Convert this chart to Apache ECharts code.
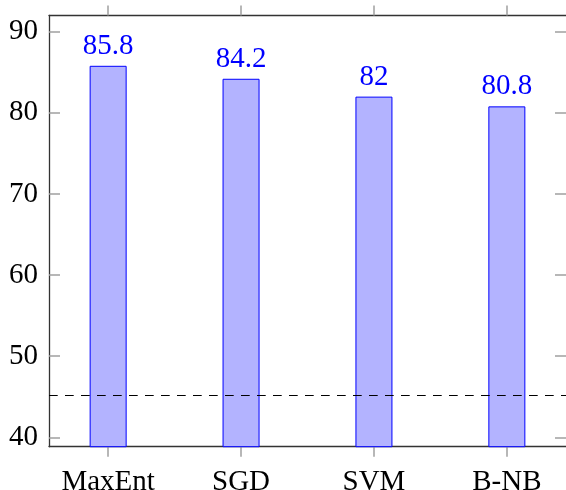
<!DOCTYPE html>
<html>
<head>
<meta charset="utf-8">
<script src="https://cdn.jsdelivr.net/npm/echarts@6/dist/echarts.min.js"></script>
<style>
html,body{margin:0;padding:0;background:#fff;}
#c{width:566px;height:490px;}
</style>
</head>
<body>
<div id="c"></div>
<script>
var categories = ["MaxEnt", "SGD", "SVM", "B-NB"];
var accuracy = [85.8, 84.2, 82, 80.8];
var baseline = 45.2;
var yTicks = [40, 50, 60, 70, 80, 90];

var positions = categories.map(function (c, i) { return i + 1; });
var barData = categories.map(function (c, i) { return [positions[i], accuracy[i]]; });

var FONT = "Liberation Serif";
var chart = echarts.init(document.getElementById('c'), null, {renderer: 'canvas'});

var xMin = 0.555, xMax = 4.445, yMin = 38.85, yMax = 92;
var lineStyle = {color: '#333333', width: 1.3};
var tickStyle = {color: '#a0a0a0', width: 1.5};

chart.setOption({
  animation: false,
  grid: {left: 49, right: 0, top: 15.5, bottom: 43.3, containLabel: false, outerBoundsMode: 'none'},
  xAxis: [
    {
      type: 'value', min: xMin, max: xMax, position: 'bottom',
      splitLine: {show: false},
      axisLine: {show: true, lineStyle: lineStyle},
      axisTick: {show: true, inside: false, length: 10, customValues: positions, lineStyle: tickStyle},
      axisLabel: {
        show: true, customValues: positions, margin: 21,
        fontFamily: FONT, fontSize: 29, color: '#000',
        formatter: function (v) { return categories[Math.round(v) - 1] || ''; }
      }
    },
    {
      type: 'value', min: xMin, max: xMax, position: 'top',
      splitLine: {show: false},
      axisLine: {show: true, lineStyle: lineStyle},
      axisTick: {show: true, inside: false, length: 10, customValues: positions, lineStyle: tickStyle},
      axisLabel: {show: false}
    }
  ],
  yAxis: [
    {
      type: 'value', min: yMin, max: yMax, position: 'left',
      splitLine: {show: false},
      axisLine: {show: true, lineStyle: lineStyle},
      axisTick: {show: true, inside: true, length: 11, customValues: yTicks, lineStyle: tickStyle},
      axisLabel: {
        show: true, customValues: yTicks, margin: 11,
        fontFamily: FONT, fontSize: 29, color: '#000'
      }
    },
    {
      type: 'value', min: yMin, max: yMax, position: 'right',
      splitLine: {show: false},
      axisLine: {show: false},
      axisTick: {show: true, inside: true, length: 11, customValues: yTicks, lineStyle: tickStyle},
      axisLabel: {show: false}
    }
  ],
  series: [
    {
      type: 'bar',
      xAxisIndex: 0, yAxisIndex: 0,
      data: barData,
      barWidth: 37,
      itemStyle: {color: '#b3b3ff', borderColor: '#0000ff', borderWidth: 1},
      label: {
        show: true, position: 'top', distance: 5,
        fontFamily: FONT, fontSize: 29, color: '#0000ff',
        formatter: function (p) { return String(p.value[1]); }
      },
      markLine: {
        silent: true, symbol: 'none', label: {show: false},
        lineStyle: {color: '#000', type: [8.7, 7.3], width: 1.1},
        data: [{yAxis: baseline}]
      }
    }
  ]
});
</script>
</body>
</html>
